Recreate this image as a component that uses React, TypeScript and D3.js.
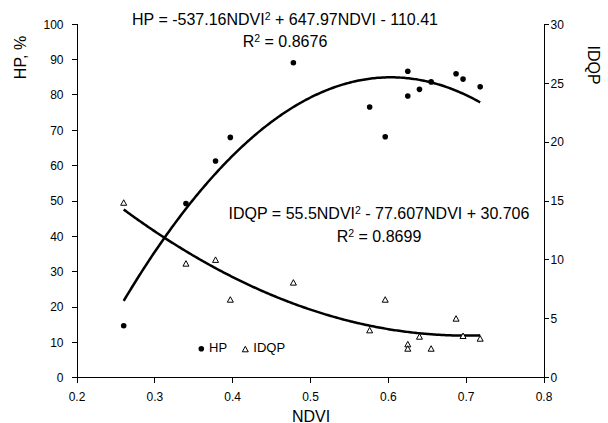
import React from "react";
import * as d3 from "d3";

const ndvi = [0.26, 0.34, 0.378, 0.397, 0.478, 0.576, 0.596, 0.625, 0.625, 0.64, 0.655, 0.687, 0.696, 0.718];
const hp = [14.7, 49.3, 61.3, 68.0, 89.1, 76.6, 68.2, 86.7, 79.7, 81.6, 83.7, 86.0, 84.5, 82.3];
const ndviIdqp = [0.26, 0.34, 0.378, 0.397, 0.478, 0.576, 0.596, 0.625, 0.625, 0.64, 0.655, 0.687, 0.696, 0.718];
const idqp = [14.85, 9.68, 10.0, 6.62, 8.07, 4.02, 6.62, 2.83, 2.46, 3.48, 2.46, 5.01, 3.54, 3.31];

const hpCoef = [-537.16, 647.97, -110.41];
const idqpCoef = [55.5, -77.607, 30.706];
const trendRange = [0.26, 0.718];

const xTicks = [0.2, 0.3, 0.4, 0.5, 0.6, 0.7, 0.8];
const leftTicks = [0, 10, 20, 30, 40, 50, 60, 70, 80, 90, 100];
const rightTicks = [0, 5, 10, 15, 20, 25, 30];

const FONT = "'Liberation Sans', Arial, sans-serif";

export default function App() {
  const W = 608, H = 423;
  const x = d3.scaleLinear().domain([0.2, 0.8]).range([77, 544]);
  const yL = d3.scaleLinear().domain([0, 100]).range([377.7, 24.3]);
  const yR = d3.scaleLinear().domain([0, 30]).range([377.7, 24.3]);

  const samples = d3.ticks(trendRange[0], trendRange[1], 200).concat([trendRange[1]]);
  samples.unshift(trendRange[0]);
  const poly = (c: number[], v: number) => c[0] * v * v + c[1] * v + c[2];
  const hpLine = d3.line<number>().x((v) => x(v)).y((v) => yL(poly(hpCoef, v)));
  const idqpLine = d3.line<number>().x((v) => x(v)).y((v) => yR(poly(idqpCoef, v)));

  const tri = (cx: number, cy: number) =>
    `M${cx},${cy - 3} L${cx + 3},${cy + 2.5} L${cx - 3},${cy + 2.5} Z`;

  const x0 = x.range()[0], x1 = x.range()[1];
  const yBottom = yL(0), yTop = yL(100);

  return (
    <svg width={W} height={H} style={{ position: "absolute", left: 0, top: 0, background: "#fff" }} fontFamily={FONT}>
      <rect width={W} height={H} fill="#fff" />
      {/* axes */}
      <g stroke="#000" strokeWidth={1} shapeRendering="crispEdges">
        <line x1={x0} x2={x1} y1={yBottom} y2={yBottom} />
        <line x1={x0} x2={x0} y1={yTop} y2={yBottom} />
        <line x1={x1} x2={x1} y1={yTop} y2={yBottom} />
        {xTicks.map((t) => (
          <line key={"xt" + t} x1={x(t)} x2={x(t)} y1={yBottom} y2={yBottom + 5} />
        ))}
        {leftTicks.map((t) => (
          <line key={"lt" + t} x1={x0 - 5} x2={x0} y1={yL(t)} y2={yL(t)} />
        ))}
        {rightTicks.map((t) => (
          <line key={"rt" + t} x1={x1} x2={x1 + 5} y1={yR(t)} y2={yR(t)} />
        ))}
      </g>
      <g fontSize={12} fill="#000">
        {xTicks.map((t) => (
          <text key={"xl" + t} x={x(t)} y={401} textAnchor="middle">{d3.format(".1f")(t)}</text>
        ))}
        {leftTicks.map((t) => (
          <text key={"ll" + t} x={63.5} y={yL(t) + 4.3} textAnchor="end">{t}</text>
        ))}
        {rightTicks.map((t) => (
          <text key={"rl" + t} x={550.5} y={yR(t) + 4.3} textAnchor="start">{t}</text>
        ))}
      </g>
      {/* axis titles */}
      <text x={311} y={421.5} fontSize={16} textAnchor="middle">NDVI</text>
      <text transform="translate(26,57.5) rotate(-90)" fontSize={16} textAnchor="middle">HP, %</text>
      <text transform="translate(588,65) rotate(90)" fontSize={16} textAnchor="middle">IDQP</text>

      {/* trendlines */}
      <path d={hpLine(samples) || ""} fill="none" stroke="#000" strokeWidth={2.5} />
      <path d={idqpLine(samples) || ""} fill="none" stroke="#000" strokeWidth={2.5} />

      {/* points */}
      {ndvi.map((v, i) => (
        <circle key={"hp" + i} cx={x(v)} cy={yL(hp[i])} r={2.8} fill="#000" />
      ))}
      {ndviIdqp.map((v, i) => (
        <path key={"iq" + i} d={tri(x(v), yR(idqp[i]))} fill="#fff" stroke="#000" strokeWidth={1} />
      ))}

      {/* equations */}
      <g fontSize={16} fill="#000">
        <text x={285} y={25.3} textAnchor="middle">
          HP = -537.16NDVI<tspan fontSize={10.5} dy={-5}>2</tspan>
          <tspan dy={5}> + 647.97NDVI - 110.41</tspan>
        </text>
        <text x={285} y={46.7} textAnchor="middle">
          R<tspan fontSize={10.5} dy={-5}>2</tspan>
          <tspan dy={5}> = 0.8676</tspan>
        </text>
        <text x={379} y={219.3} textAnchor="middle">
          IDQP = 55.5NDVI<tspan fontSize={10.5} dy={-5}>2</tspan>
          <tspan dy={5}> - 77.607NDVI + 30.706</tspan>
        </text>
        <text x={379} y={241.7} textAnchor="middle">
          R<tspan fontSize={10.5} dy={-5}>2</tspan>
          <tspan dy={5}> = 0.8699</tspan>
        </text>
      </g>

      {/* legend */}
      <circle cx={201.3} cy={348.7} r={2.8} fill="#000" />
      <text x={209} y={352} fontSize={13}>HP</text>
      <path d={tri(245.3, 349.3)} fill="#fff" stroke="#000" strokeWidth={1} />
      <text x={253.3} y={352} fontSize={13}>IDQP</text>
    </svg>
  );
}
